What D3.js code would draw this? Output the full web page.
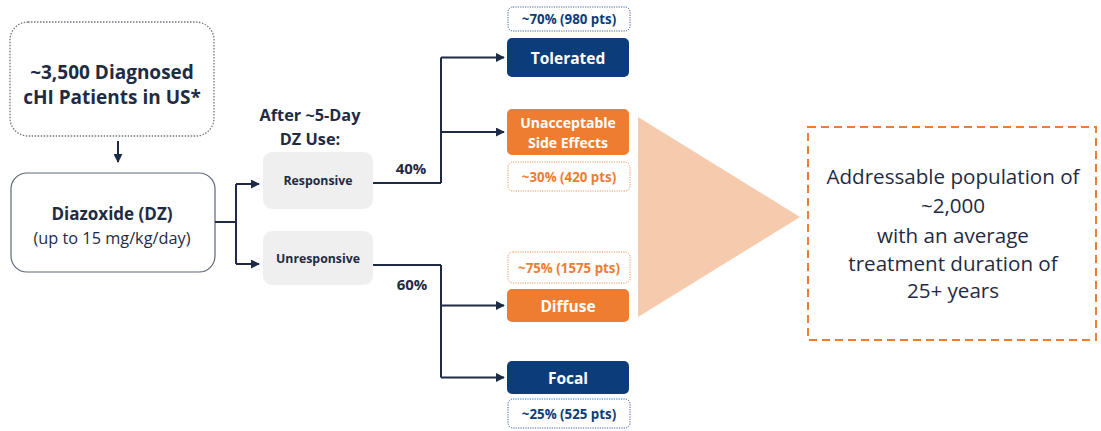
<!DOCTYPE html>
<html><head><meta charset="utf-8">
<script src="https://cdn.jsdelivr.net/npm/d3@7"></script>
<style>body{margin:0;background:#fff}svg{display:block}text{font-family:"Open Sans","Noto Sans",sans-serif}</style>
</head><body><svg id="c" width="1101" height="431"></svg>
<script>
const sourceLines = ["~3,500 Diagnosed", "cHI Patients in US*"];
const drugLines = ["Diazoxide (DZ)", "(up to 15 mg/kg/day)"];
const phaseLines = ["After ~5-Day", "DZ Use:"];
const responseCats = ["Responsive", "Unresponsive"];
const responseShares = ["40%", "60%"];
const outcomeCats = [["Tolerated"], ["Unacceptable", "Side Effects"], ["Diffuse"], ["Focal"]];
const outcomeShares = ["~70% (980 pts)", "~30% (420 pts)", "~75% (1575 pts)", "~25% (525 pts)"];
const outcomeKind = ["navy", "orange", "orange", "navy"];
const resultLines = ["Addressable population of", "~2,000", "with an average", "treatment duration of", "25+ years"];

const svg = d3.select("#c");
const NAVY = "#0c3d7a", ORANGE = "#ee7d31", INK = "#1f2b44", PEACH = "#f6caac";

svg.append("defs").append("marker").attr("id","ah").attr("viewBox","0 0 10 10")
  .attr("refX",9).attr("refY",5).attr("markerWidth",4.5).attr("markerHeight",4.5).attr("orient","auto")
  .append("path").attr("d","M0,0L10,5L0,10z").attr("fill",INK);

function lines(g, arr, x, y0, dy, opts) {
  arr.forEach((t,i)=>{
    g.append("text").attr("x",x).attr("y",Array.isArray(y0)?y0[i]:y0+i*dy).attr("text-anchor","middle")
     .attr("dominant-baseline","central").attr("fill",opts.fill||INK)
     .attr("font-size",(opts.sizes?opts.sizes[i]:opts.size)).attr("font-weight",(opts.weights?opts.weights[i]:opts.weight)||400)
     .text(t);
  });
}
function arrow(pts, marker) {
  const p = svg.append("path").attr("d", d3.line()(pts)).attr("fill","none")
    .attr("stroke",INK).attr("stroke-width",2);
  if (marker) p.attr("marker-end","url(#ah)");
}

svg.append("rect").attr("x",10).attr("y",22).attr("width",204).attr("height",114).attr("rx",18)
  .attr("fill","none").attr("stroke","#6f7680").attr("stroke-width",1.3).attr("stroke-dasharray","1.5,1.5");
lines(svg, sourceLines, 112, 72, 25, {size:19, weight:700});
arrow([[118,141],[118,162]], true);

svg.append("rect").attr("x",11).attr("y",173).attr("width",204).attr("height",99).attr("rx",16)
  .attr("fill","#fff").attr("stroke","#5d6878").attr("stroke-width",1.2);
lines(svg, drugLines, 112, [213,238], 0, {sizes:[17,16.3], weights:[700,400]});

const yResp = d3.scalePoint().domain(responseCats).range([184,264]);
arrow([[215,222],[236,222]]);
arrow([[236,yResp.range()[0]],[236,yResp.range()[1]]]);
responseCats.forEach(c=>arrow([[236,yResp(c)],[259,yResp(c)]], true));

lines(svg, phaseLines, 310, 115, 24, {size:16.3, weight:700});

const respBox = {Responsive:[152,209], Unresponsive:[231,285]};
responseCats.forEach(c=>{
  const [a,b] = respBox[c];
  svg.append("rect").attr("x",263).attr("y",a).attr("width",110).attr("height",b-a).attr("rx",9).attr("fill","#efefef");
  lines(svg,[c],318,(a+b)/2,0,{size:12.3, weight:700});
});

const outBox = [[38,77],[109,155],[289,322],[361,394]];
const shareBox = [[7,31],[162,191],[252,283],[399,428]];
const outY = outBox.map(b=>(b[0]+b[1])/2);

const respLineY = [183,265];
[0,1].forEach(i=>{
  const ys = i===0 ? [outY[0],outY[1]] : [outY[2],outY[3]];
  arrow([[373,respLineY[i]],[441,respLineY[i]]]);
  arrow([[441,Math.min(respLineY[i],ys[0])],[441,Math.max(respLineY[i],ys[1])]]);
  ys.forEach(y=>arrow([[441,y],[504,y]], true));
});
lines(svg,[responseShares[0]],411,168,0,{size:15, weight:700});
lines(svg,[responseShares[1]],412,284,0,{size:15, weight:700});

svg.append("path").attr("d", d3.line()([[638,117],[800,217],[638,317]])+"Z").attr("fill",PEACH);

outcomeCats.forEach((c,i)=>{
  const col = outcomeKind[i]==="navy"?NAVY:ORANGE;
  const [a,b] = outBox[i];
  svg.append("rect").attr("x",507).attr("y",a).attr("width",122).attr("height",b-a).attr("rx",5).attr("fill",col);
  const n = c.length;
  lines(svg,c,568,(a+b)/2-(n-1)*10,20,{size:n>1?14:15.5, weight:700, fill:"#fff"});
  const [s,e] = shareBox[i];
  svg.append("rect").attr("x",508).attr("y",s).attr("width",122).attr("height",e-s).attr("rx",5)
    .attr("fill","#fff").attr("stroke",col).attr("stroke-width",1).attr("stroke-dasharray","1.2,1.2").attr("stroke-opacity",0.8);
  lines(svg,[outcomeShares[i]],569,(s+e)/2,0,{size:13.3, weight:700, fill:col});
});

svg.append("rect").attr("x",808).attr("y",127).attr("width",288).attr("height",213)
  .attr("fill","none").attr("stroke",ORANGE).attr("stroke-width",2).attr("stroke-dasharray","8,5");
lines(svg, resultLines, 953, [176,205,235,263,290], 0, {size:20.6, weight:400});
</script></body></html>
